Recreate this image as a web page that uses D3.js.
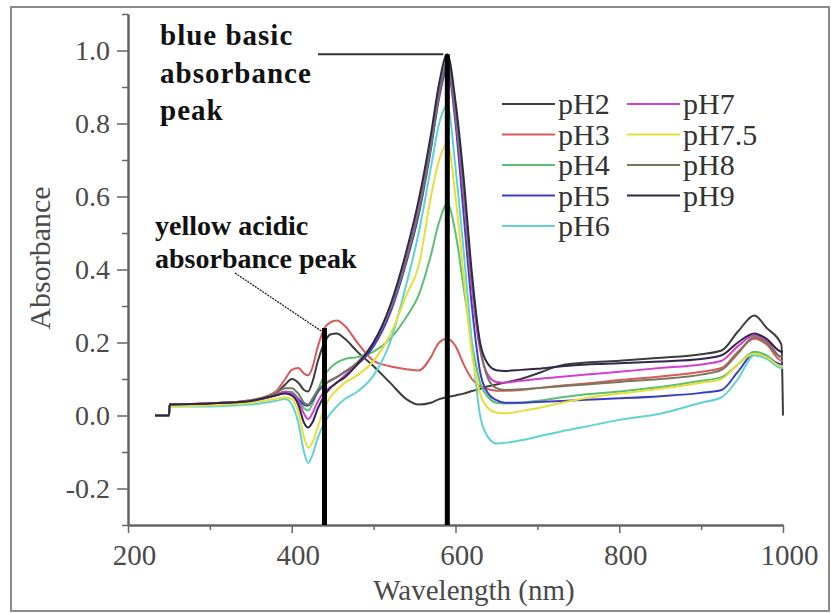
<!DOCTYPE html>
<html><head><meta charset="utf-8">
<script src="https://cdn.jsdelivr.net/npm/d3@7/dist/d3.min.js"></script>
<style>
html,body{margin:0;padding:0;background:#fff;}
svg{display:block;}
text{font-family:"Liberation Serif","Times New Roman",serif;}
</style></head>
<body>
<svg id="chart" width="831" height="614"></svg>
<script>
// ---------- data ----------
const wavelengths = [233,250,251,300,350,380,392,400,408,415,420,425,432,440,447,455,465,480,500,520,540,555,570,580,590,600,610,620,630,640,650,660,680,700,730,760,800,850,900,925,945,965,980,998,1000];
const pH2  = [0,0,0.03,0.033,0.04,0.06,0.085,0.1,0.09,0.07,0.066,0.09,0.15,0.2,0.222,0.225,0.21,0.175,0.135,0.09,0.045,0.03,0.035,0.045,0.05,0.055,0.06,0.067,0.073,0.08,0.085,0.09,0.1,0.115,0.138,0.145,0.15,0.158,0.168,0.178,0.23,0.274,0.24,0.195,0.0];
const pH3  = [0,0,0.03,0.033,0.042,0.065,0.1,0.125,0.13,0.115,0.11,0.13,0.19,0.24,0.255,0.26,0.245,0.2,0.15,0.135,0.127,0.123,0.16,0.2,0.21,0.19,0.14,0.1,0.08,0.072,0.068,0.068,0.07,0.075,0.082,0.088,0.097,0.107,0.12,0.13,0.175,0.21,0.195,0.15,0.15];
const pH4  = [0,0,0.03,0.033,0.04,0.055,0.065,0.065,0.045,0.02,0.014,0.03,0.07,0.11,0.13,0.145,0.155,0.16,0.175,0.21,0.27,0.33,0.44,0.53,0.58,0.5,0.35,0.2,0.09,0.05,0.035,0.033,0.035,0.04,0.05,0.058,0.066,0.078,0.095,0.105,0.14,0.175,0.165,0.135,0.135];
const pH5  = [0,0,0.03,0.033,0.04,0.055,0.065,0.06,0.045,0.03,0.027,0.04,0.065,0.085,0.096,0.105,0.12,0.14,0.19,0.28,0.42,0.55,0.73,0.87,0.95,0.8,0.55,0.3,0.12,0.06,0.042,0.035,0.035,0.037,0.04,0.043,0.047,0.053,0.062,0.07,0.12,0.17,0.16,0.14,0.14];
const pH6  = [0,0,0.025,0.025,0.03,0.04,0.045,0.03,-0.02,-0.1,-0.13,-0.11,-0.06,-0.02,0.005,0.025,0.045,0.065,0.11,0.2,0.36,0.5,0.68,0.8,0.85,0.68,0.45,0.2,0.0,-0.06,-0.077,-0.075,-0.068,-0.058,-0.043,-0.03,-0.012,0.005,0.035,0.05,0.1,0.165,0.155,0.13,0.13];
const pH7  = [0,0,0.03,0.033,0.04,0.055,0.065,0.06,0.04,0.005,-0.01,0.005,0.04,0.065,0.077,0.09,0.11,0.14,0.2,0.29,0.43,0.57,0.75,0.89,0.96,0.82,0.6,0.35,0.18,0.11,0.092,0.09,0.095,0.1,0.106,0.112,0.12,0.13,0.14,0.15,0.19,0.22,0.205,0.16,0.16];
const pH75 = [0,0,0.025,0.028,0.035,0.045,0.05,0.045,0.01,-0.06,-0.088,-0.075,-0.03,0.02,0.05,0.07,0.09,0.11,0.15,0.22,0.33,0.41,0.6,0.7,0.745,0.6,0.38,0.17,0.06,0.02,0.008,0.006,0.012,0.02,0.035,0.048,0.06,0.073,0.09,0.1,0.14,0.17,0.16,0.135,0.135];
const pH8  = [0,0,0.03,0.033,0.042,0.06,0.075,0.075,0.06,0.035,0.03,0.045,0.07,0.085,0.095,0.105,0.12,0.145,0.2,0.29,0.43,0.56,0.74,0.88,0.97,0.83,0.62,0.37,0.19,0.1,0.075,0.07,0.072,0.075,0.08,0.085,0.092,0.1,0.112,0.125,0.17,0.215,0.2,0.16,0.16];
const pH9  = [0,0,0.03,0.033,0.04,0.055,0.06,0.055,0.03,-0.02,-0.033,-0.02,0.02,0.055,0.075,0.09,0.105,0.14,0.2,0.3,0.45,0.59,0.77,0.91,0.99,0.86,0.65,0.39,0.2,0.14,0.124,0.122,0.125,0.128,0.135,0.14,0.143,0.148,0.155,0.165,0.2,0.225,0.21,0.175,0.175];

const seriesNames  = ["pH2","pH3","pH4","pH5","pH6","pH7","pH7.5","pH8","pH9"];
const seriesValues = [pH2,pH3,pH4,pH5,pH6,pH7,pH75,pH8,pH9];
const seriesColors = ["#3c3c3c","#d65a5a","#5cbf72","#3d3dc4","#5fd3d3","#d23fd2","#e6df3a","#77775c","#302848"];

const yMajorTicks = [-0.2,0.0,0.2,0.4,0.6,0.8,1.0];
const yMinorTicks = [-0.3,-0.1,0.1,0.3,0.5,0.7,0.9,1.1];
const xMajorTicks = [200,400,600,800,1000];
const xMinorTicks = [300,500,700,900];

const acidicPeak = {wl:440, abs:0.24};
const basicPeak  = {wl:590, abs:0.99};

// ---------- drawing ----------
const svg = d3.select("#chart");
const x = d3.scaleLinear().domain([200,1000]).range([128,783]);
const y = d3.scaleLinear().domain([-0.3,1.1]).range([525,14]);

// outer frame
svg.append("rect").attr("x",11).attr("y",7).attr("width",818).attr("height",604)
  .attr("fill","none").attr("stroke","#8a8a8a").attr("stroke-width",2);

// curves
const line = d3.line().x(d=>x(d[0])).y(d=>y(d[1])).curve(d3.curveMonotoneX);
seriesValues.forEach((vals,i)=>{
  const pts = wavelengths.map((w,j)=>[w, vals[j]]);
  svg.append("path").datum(pts).attr("d",line)
    .attr("fill","none").attr("stroke",seriesColors[i]).attr("stroke-width",2)
    .attr("stroke-linejoin","round");
});

// axes
const axisColor = "#666";
const gyMinor = svg.append("g").attr("transform","translate(128,0)")
  .call(d3.axisLeft(y).tickValues(yMinorTicks).tickSize(6).tickSizeOuter(0).tickFormat(""));
const gy = svg.append("g").attr("transform","translate(128,0)")
  .call(d3.axisLeft(y).tickValues(yMajorTicks).tickSize(11).tickSizeOuter(0).tickPadding(7).tickFormat(d3.format(".1f")));
const gxMinor = svg.append("g").attr("transform","translate(0,525)")
  .call(d3.axisBottom(x).tickValues(xMinorTicks).tickSize(5).tickSizeOuter(0).tickFormat(""));
const gx = svg.append("g").attr("transform","translate(0,525)")
  .call(d3.axisBottom(x).tickValues(xMajorTicks).tickSize(8).tickSizeOuter(0).tickPadding(11).tickFormat(d3.format("d")));
[gyMinor,gy,gxMinor,gx].forEach(g=>{
  g.selectAll("path").attr("stroke",axisColor).attr("stroke-width",2);
  g.selectAll("line").attr("stroke",axisColor).attr("stroke-width",1.5);
  g.selectAll("text").attr("fill","#4a4a4a").style("font-size","28px")
    .style("font-family","'Liberation Serif',serif");
});
gy.selectAll("text").text(d=> d<0 ? "-"+Math.abs(d).toFixed(1) : d.toFixed(1));
gx.selectAll("text").attr("dx",6).style("font-size","29px");

// axis titles
svg.append("text").attr("x",474).attr("y",600).attr("text-anchor","middle")
  .attr("fill","#4a4a4a").style("font-size","29px").text("Wavelength (nm)");
svg.append("text").attr("transform","translate(50,258) rotate(-90)").attr("text-anchor","middle")
  .attr("fill","#4a4a4a").style("font-size","30px").text("Absorbance");

// peak marker bars
svg.append("line").attr("x1",x(acidicPeak.wl)).attr("x2",x(acidicPeak.wl))
  .attr("y1",y(acidicPeak.abs)).attr("y2",y(-0.3)).attr("stroke","#000").attr("stroke-width",5);
svg.append("line").attr("x1",x(basicPeak.wl)).attr("x2",x(basicPeak.wl))
  .attr("y1",y(basicPeak.abs)).attr("y2",y(-0.3)).attr("stroke","#000").attr("stroke-width",5);

// annotations
const annB = svg.append("g").attr("fill","#111").style("font-size","29px").style("font-weight","bold")
  .style("letter-spacing","1px");
[["blue basic",45],["absorbance",83],["peak",120]].forEach(([t,yy])=>{
  annB.append("text").attr("x",160).attr("y",yy).text(t);
});
const annY = svg.append("g").attr("fill","#111").style("font-size","28px").style("font-weight","bold");
[["yellow acidic",235],["absorbance peak",268]].forEach(([t,yy])=>{
  annY.append("text").attr("x",155).attr("y",yy).text(t);
});
svg.append("line").attr("x1",318).attr("y1",y(basicPeak.abs)).attr("x2",x(basicPeak.wl)-4).attr("y2",y(basicPeak.abs))
  .attr("stroke","#333").attr("stroke-width",2);
svg.append("line").attr("x1",235).attr("y1",273).attr("x2",x(acidicPeak.wl)-2).attr("y2",y(acidicPeak.abs)+4)
  .attr("stroke","#222").attr("stroke-width",1.3).attr("stroke-dasharray","2,1");

// legend
const legend = svg.append("g");
seriesNames.forEach((n,i)=>{
  const col = i<5 ? 0 : 1;
  const row = i<5 ? i : i-5;
  const lx = col===0 ? 502 : 627;
  const ly = 104 + row*30.5;
  legend.append("line").attr("x1",lx).attr("x2",lx+53).attr("y1",ly).attr("y2",ly)
    .attr("stroke",seriesColors[i]).attr("stroke-width",2);
  legend.append("text").attr("x",lx+56).attr("y",ly+10).attr("fill","#333")
    .style("font-size","30px").text(n);
});
</script>
</body></html>
